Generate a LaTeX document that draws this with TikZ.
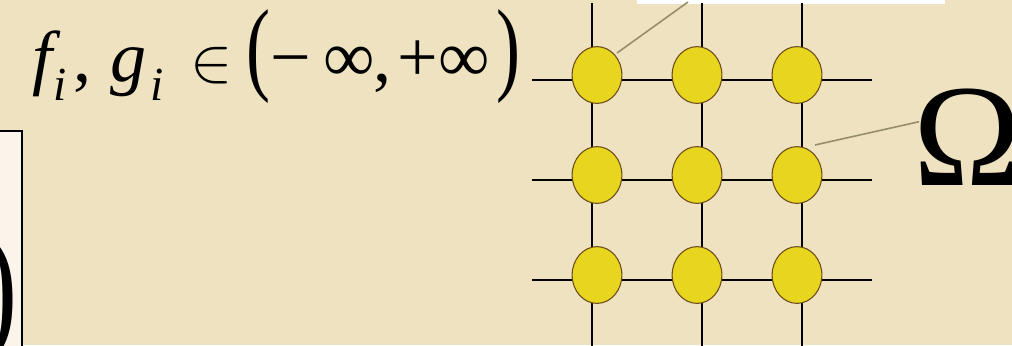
\documentclass[tikz,border=0pt]{standalone}
\usepackage{fontspec}
\setmainfont{Liberation Serif}
\usepackage{amsmath}
\usepackage{tikz}
\usetikzlibrary{positioning, calc, shapes.geometric}

\definecolor{parchment}{RGB}{238, 226, 192}
\definecolor{siteyellow}{RGB}{232, 213, 29}
\definecolor{sitebrown}{RGB}{107, 75, 27}
\definecolor{leadergray}{RGB}{150, 142, 105}
\definecolor{boxwhite}{RGB}{251, 244, 234}

\newdimen\pxunit \pxunit=0.2mm
\newcommand{\gat}[2]{\rlap{\hspace*{#1\pxunit}#2}}

\begin{document}
\begin{tikzpicture}[
  x=0.2mm, y=-0.2mm,
  site/.style={
    ellipse, draw=sitebrown, line width=0.6pt,
    fill=siteyellow,
    minimum width=28.3pt, minimum height=32.3pt, inner sep=0pt
  },
  gridline/.style={draw=black, line width=0.8pt},
  leader/.style={draw=leadergray, line width=0.9pt}
]
\useasboundingbox (0,0) rectangle (1012,345);
\clip (0,0) rectangle (1012,345);
\fill[parchment] (0,0) rectangle (1012,345);

% boxes cut by the frame
\fill[white] (637,-5) rectangle (945,4);
\draw[fill=boxwhite, line width=0.6pt] (-10,131) rectangle (22,360);
\node[anchor=east, inner sep=0pt] (rparen) at (18,300)
  {\fontsize{60}{60}\selectfont\scalebox{1}[1.4]{)}};

% lattice
\foreach \y in {80,180,280}
  \draw[gridline] (532,\y) -- (872,\y);
\foreach \x in {592,702,802}
  \draw[gridline] (\x,3) -- (\x,350);

\foreach \r/\y in {1/75, 2/175, 3/275}
  \foreach \c/\x in {1/597, 2/697, 3/797}
    \node[site] (n\r\c) at (\x,\y) {};

% labels
\node[anchor=base west, inner sep=0pt] (range) at (0,81) {%
  \fontsize{41}{48}\selectfont
  \gat{32}{\textit{f}}%
  \gat{53}{\raisebox{-19\pxunit}{\fontsize{27}{30}\selectfont\textit{i}}}%
  \gat{73}{,}%
  \gat{110}{\textit{g}}%
  \gat{150}{\raisebox{-19\pxunit}{\fontsize{27}{30}\selectfont\textit{i}}}%
  \gat{190}{\fontsize{10}{12}\selectfont\scalebox{3.6}{$\in$}}%
  \gat{246}{\scalebox{1}[1.44]{(}}%
  \gat{270}{−}%
  \gat{323}{∞}%
  \gat{373}{,}%
  \gat{397}{+}%
  \gat{438}{∞}%
  \gat{496}{\scalebox{1}[1.44]{)}}%
  \hspace*{520\pxunit}%
};
\node[anchor=base west, inner sep=0pt] (omega) at (913,185)
  {\fontsize{83}{90}\selectfont Ω};

\coordinate (topend) at (688,2);
\draw[leader] ($(n11)+(20,-22)$) -- (topend);
\draw[leader] ($(n23)+(18,-30)$) -- ($(omega.west)+(6,-15)$);
\end{tikzpicture}
\end{document}
